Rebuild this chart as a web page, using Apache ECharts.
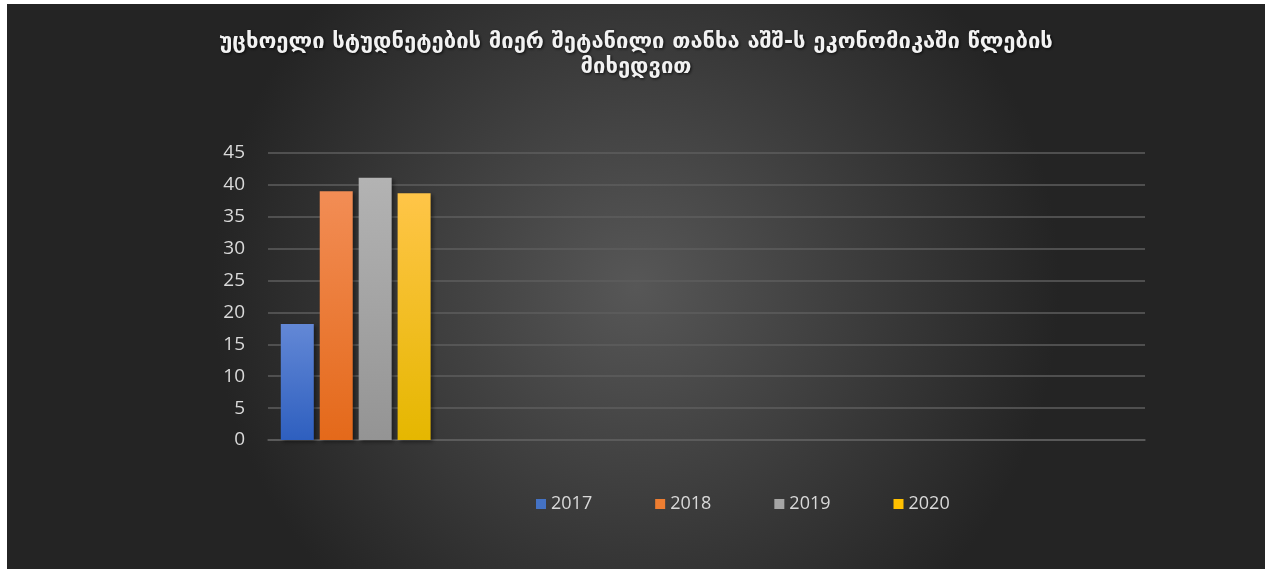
<!DOCTYPE html>
<html>
<head>
<meta charset="utf-8">
<script src="https://cdn.jsdelivr.net/npm/echarts@6/dist/echarts.min.js"></script>
<style>
html,body{margin:0;padding:0;background:#ffffff;width:1266px;height:569px;overflow:hidden;}
#c{position:absolute;left:7px;top:4px;width:1258px;height:565px;}
</style>
</head>
<body>
<div id="c"></div>
<script>
const titleText = 'უცხოელი სტუდნეტების მიერ შეტანილი თანხა აშშ-ს ეკონომიკაში წლების\nმიხედვით';
const categories = ['', '', '', '', ''];
const seriesNames = ['2017', '2018', '2019', '2020'];
const values2017 = [18.2, null, null, null, null];
const values2018 = [39.0, null, null, null, null];
const values2019 = [41.1, null, null, null, null];
const values2020 = [38.7, null, null, null, null];
const yTicks = [0, 5, 10, 15, 20, 25, 30, 35, 40, 45];

const seriesValues = [values2017, values2018, values2019, values2020];
const gradients = [
  ['#6388d6', '#2e5fbf'],
  ['#f28d55', '#e4691a'],
  ['#b3b3b3', '#949494'],
  ['#ffc548', '#e5b700']
];
const legendColors = ['#4472c4', '#ed7d31', '#a5a5a5', '#ffc000'];

const chart = echarts.init(document.getElementById('c'), null, {renderer: 'canvas'});
const option = {
  backgroundColor: new echarts.graphic.RadialGradient(0.5, 0.5, 0.75, [
    {offset: 0, color: '#575757'},
    {offset: 1, color: '#242424'}
  ]),
  animation: false,
  title: {
    text: titleText,
    left: 'center',
    top: 21,
    textStyle: {
      fontFamily: 'DejaVu Sans',
      fontWeight: 'bold',
      fontSize: 22,
      color: '#f2f2f2',
      lineHeight: 25,
      textShadowColor: 'rgba(0,0,0,0.8)',
      textShadowBlur: 3,
      textShadowOffsetX: 1,
      textShadowOffsetY: 1
    }
  },
  grid: {left: 261, right: 120, top: 149, bottom: 129, containLabel: false},
  legend: {
    bottom: 51,
    left: 524,
    itemWidth: 10,
    itemHeight: 10,
    itemGap: 63,
    icon: 'rect',
    textStyle: {color: '#d9d9d9', fontSize: 18, fontFamily: 'Open Sans'},
    data: seriesNames.map((n, i) => ({name: n, itemStyle: {color: legendColors[i]}}))
  },
  xAxis: {
    type: 'category',
    data: categories,
    axisLine: {show: true, lineStyle: {color: '#5e5e5e', width: 1.5}},
    axisTick: {show: false},
    axisLabel: {show: false}
  },
  yAxis: {
    type: 'value',
    min: yTicks[0],
    max: yTicks[yTicks.length - 1],
    interval: 5,
    axisLine: {show: false},
    axisTick: {show: false},
    axisLabel: {color: '#d9d9d9', fontSize: 19, fontFamily: 'Open Sans', margin: 23},
    splitLine: {lineStyle: {color: '#5e5e5e', width: 1.5}}
  },
  series: seriesNames.map((n, i) => ({
    name: n,
    type: 'bar',
    data: seriesValues[i],
    barWidth: 33,
    barGap: '18%',
    itemStyle: {
      color: new echarts.graphic.LinearGradient(0, 0, 0, 1, [
        {offset: 0, color: gradients[i][0]},
        {offset: 1, color: gradients[i][1]}
      ]),
      shadowColor: 'rgba(0,0,0,0.45)',
      shadowBlur: 4,
      shadowOffsetX: 2,
      shadowOffsetY: 2
    }
  }))
};
chart.setOption(option);
</script>
</body>
</html>
